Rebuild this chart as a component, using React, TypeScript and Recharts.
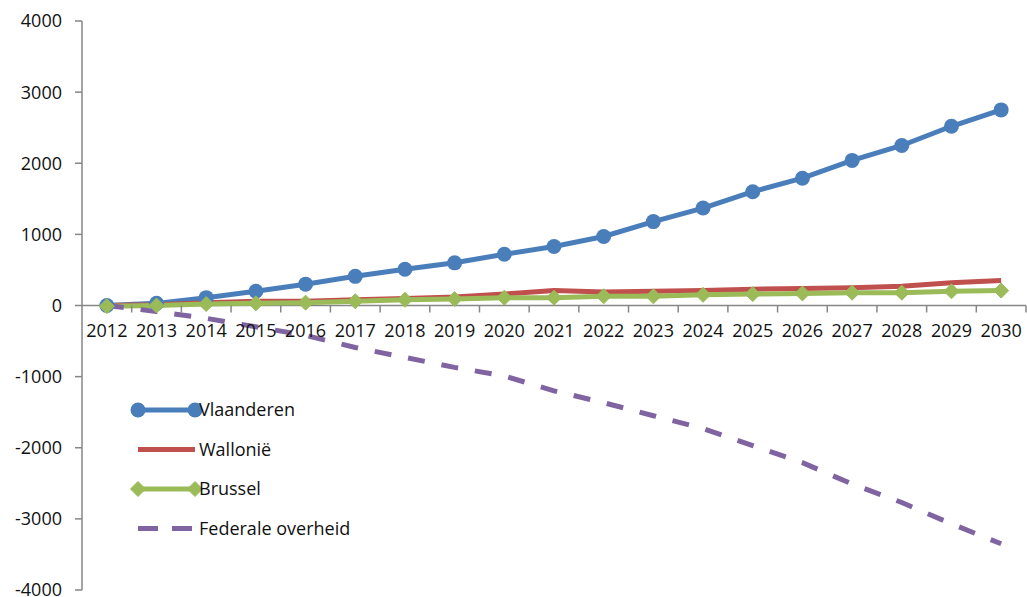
import React from "react";
import { LineChart, Line, XAxis, YAxis, ReferenceLine } from "recharts";

const years = [
  "2012", "2013", "2014", "2015", "2016", "2017", "2018", "2019", "2020", "2021",
  "2022", "2023", "2024", "2025", "2026", "2027", "2028", "2029", "2030",
];
const vlaanderen = [0, 30, 110, 200, 300, 410, 510, 600, 720, 830, 970, 1180, 1370, 1600, 1790, 2040, 2250, 2520, 2750];
const wallonie = [0, 10, 40, 60, 60, 80, 100, 120, 160, 210, 190, 200, 210, 230, 240, 250, 270, 320, 350];
const brussel = [-10, 0, 20, 30, 40, 60, 80, 90, 110, 110, 130, 130, 150, 160, 170, 180, 180, 200, 210];
const federaal = [0, -85, -180, -300, -420, -590, -730, -870, -990, -1200, -1366, -1550, -1730, -1970, -2210, -2510, -2770, -3070, -3350];
const yTicks = [-4000, -3000, -2000, -1000, 0, 1000, 2000, 3000, 4000];

const data = years.map((year, i) => ({
  year,
  vlaanderen: vlaanderen[i],
  wallonie: wallonie[i],
  brussel: brussel[i],
  federaal: federaal[i],
}));

const W = 1027;
const H = 597;
const TOP = 21;
const BOTTOM = 590;
const AXIS_X = 82;
const RIGHT = 1026;
const X_AXIS_H = 20;
const BAND = (RIGHT - AXIS_X) / years.length;
const ZERO_Y = (TOP + BOTTOM) / 2;
const FONT = "'Open Sans', sans-serif";
const AXIS_COLOR = "#868686";

const BLUE = "#4a7ebb";
const RED = "#c0504d";
const GREEN = "#9bbb59";
const PURPLE = "#8064a2";

// x axis sits on the zero line, so the tick is drawn there instead of at the bottom
const XTick = (props: any) => {
  const { x, payload } = props;
  return (
    <g>
      <line x1={x + BAND / 2} x2={x + BAND / 2} y1={ZERO_Y} y2={ZERO_Y + 7} stroke={AXIS_COLOR} strokeWidth={1.5} />
      <text x={x} y={ZERO_Y + 31} textAnchor="middle" fontSize={18} fontFamily={FONT} fill="#111">
        {payload.value}
      </text>
    </g>
  );
};

const Diamond = (props: any) => {
  const { cx, cy } = props;
  if (cx == null || cy == null) return <g />;
  const r = 7.5;
  return (
    <polygon
      points={`${cx},${cy - r} ${cx + r},${cy} ${cx},${cy + r} ${cx - r},${cy}`}
      fill={GREEN}
      stroke={GREEN}
    />
  );
};

const legendItems = [
  { name: "Vlaanderen", color: BLUE, marker: "circle" },
  { name: "Wallonië", color: RED, marker: "none" },
  { name: "Brussel", color: GREEN, marker: "diamond" },
  { name: "Federale overheid", color: PURPLE, marker: "dash" },
];

const ChartLegend = () => (
  <svg width={300} height={170} style={{ position: "absolute", left: 125, top: 390 }}>
    {legendItems.map((item, i) => {
      const y = 20 + i * 39.5;
      const x1 = 13;
      const x2 = 70;
      return (
        <g key={item.name}>
          {item.marker === "dash" ? (
            <line x1={x1} x2={x2} y1={y} y2={y} stroke={item.color} strokeWidth={5} strokeDasharray="20 14" />
          ) : (
            <line x1={x1} x2={x2} y1={y} y2={y} stroke={item.color} strokeWidth={5} />
          )}
          {item.marker === "circle" && (
            <>
              <circle cx={x1} cy={y} r={7.5} fill={item.color} />
              <circle cx={x2} cy={y} r={7.5} fill={item.color} />
            </>
          )}
          {item.marker === "diamond" && (
            <>
              <Diamond cx={x1} cy={y} />
              <Diamond cx={x2} cy={y} />
            </>
          )}
          <text x={74} y={y + 6} fontSize={18} fontFamily={FONT} fill="#111">
            {item.name}
          </text>
        </g>
      );
    })}
  </svg>
);

export default function App() {
  return (
    <div style={{ position: "absolute", left: 0, top: 0, width: W, height: H, overflow: "hidden", background: "#fff" }}>
      <LineChart
        width={W}
        height={H}
        data={data}
        margin={{ top: TOP, right: W - RIGHT, bottom: H - BOTTOM - X_AXIS_H, left: 0 }}
      >
        <XAxis
          dataKey="year"
          height={X_AXIS_H}
          axisLine={false}
          tickLine={false}
          tick={<XTick />}
          interval={0}
          padding={{ left: BAND / 2, right: BAND / 2 }}
        />
        <YAxis
          width={AXIS_X}
          domain={[-4000, 4000]}
          ticks={yTicks}
          interval={0}
          tickSize={7}
          tickMargin={13}
          axisLine={{ stroke: AXIS_COLOR, strokeWidth: 1.5 }}
          tickLine={{ stroke: AXIS_COLOR, strokeWidth: 1.5 }}
          tick={{ fontSize: 18, fontFamily: FONT, fill: "#111" }}
        />
        <ReferenceLine y={0} stroke={AXIS_COLOR} strokeWidth={1.5} />
        <Line
          dataKey="vlaanderen"
          name="Vlaanderen"
          stroke={BLUE}
          strokeWidth={5}
          dot={{ r: 7.5, fill: BLUE, stroke: BLUE, strokeWidth: 0 }}
          isAnimationActive={false}
        />
        <Line
          dataKey="wallonie"
          name="Wallonië"
          stroke={RED}
          strokeWidth={5}
          dot={false}
          isAnimationActive={false}
        />
        <Line
          dataKey="brussel"
          name="Brussel"
          stroke={GREEN}
          strokeWidth={5}
          dot={<Diamond />}
          isAnimationActive={false}
        />
        <Line
          dataKey="federaal"
          name="Federale overheid"
          stroke={PURPLE}
          strokeWidth={5}
          strokeDasharray="17 17"
          dot={false}
          isAnimationActive={false}
        />
      </LineChart>
      <ChartLegend />
    </div>
  );
}
